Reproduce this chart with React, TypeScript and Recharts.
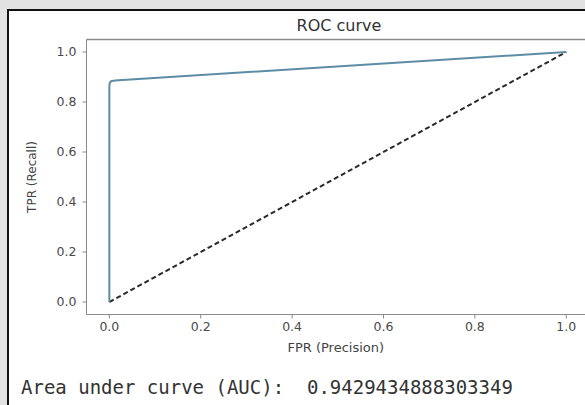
import React from "react";
import { LineChart, Line, XAxis, YAxis, ReferenceLine } from "recharts";

// ROC curve points
const rocFpr = [0, 0, 0.001, 0.004, 0.012, 1.0];
const rocTpr = [0, 0.865, 0.877, 0.883, 0.886, 1.0];

// chance diagonal
const chanceFpr = [0, 1];
const chanceTpr = [0, 1];

const xTicks = [0, 0.2, 0.4, 0.6, 0.8, 1.0];
const yTicks = [0, 0.2, 0.4, 0.6, 0.8, 1.0];

const aucText = "Area under curve (AUC):  0.9429434888303349";

const rocData = rocFpr.map((f, i) => ({ fpr: f, tpr: rocTpr[i] }));
const chanceData = chanceFpr.map((f, i) => ({ fpr: f, tpr: chanceTpr[i] }));

const fmt = (v: number) => v.toFixed(1);
const spine = "#8a8a8a";
const tickFont = { fill: "#4a4a4a", fontSize: 12.5, fontFamily: "DejaVu Sans" };
// the axes run past the right edge of the picture, so the x domain is cut there
const xDomain = [-0.05, 1.041];
const yDomain = [-0.05, 1.05];

export default function App() {
  return (
    <div
      style={{
        position: "absolute",
        left: 0,
        top: 0,
        width: 585,
        height: 405,
        overflow: "hidden",
        background: "#e2e2e2",
      }}
    >
      <style>{`html, body { margin: 0; overflow: hidden; }`}</style>
      <div
        style={{
          position: "absolute",
          left: 7,
          top: 9,
          width: 578,
          height: 396,
          boxSizing: "border-box",
          background: "#ffffff",
          borderLeft: "2px solid #111",
          borderTop: "2px solid #111",
        }}
      />
      <div
        style={{
          position: "absolute",
          left: 284,
          width: 110,
          top: 16,
          textAlign: "center",
          fontFamily: "DejaVu Sans",
          fontSize: 16,
          lineHeight: "19px",
          color: "#333",
        }}
      >
        ROC curve
      </div>
      <div style={{ position: "absolute", left: 0, top: 0 }}>
        <LineChart
          width={585}
          height={405}
          margin={{ top: 39.5, right: 0, left: 0, bottom: 50.5 }}
        >
          <XAxis
            dataKey="fpr"
            type="number"
            domain={xDomain}
            allowDataOverflow
            ticks={xTicks}
            tickFormatter={fmt}
            height={40}
            tickSize={4}
            tickMargin={4}
            stroke={spine}
            tick={tickFont}
            label={{
              value: "FPR (Precision)",
              position: "insideBottom",
              offset: 3,
              fill: "#444",
              fontSize: 13,
              fontFamily: "DejaVu Sans",
            }}
          />
          <YAxis
            dataKey="tpr"
            type="number"
            domain={yDomain}
            allowDataOverflow
            ticks={yTicks}
            tickFormatter={fmt}
            width={86.5}
            tickSize={4}
            tickMargin={6}
            stroke={spine}
            tick={tickFont}
            label={{
              value: "TPR (Recall)",
              angle: -90,
              position: "insideLeft",
              offset: 32,
              style: { textAnchor: "middle" },
              fill: "#444",
              fontSize: 12,
              fontFamily: "DejaVu Sans",
            }}
          />
          <ReferenceLine
            y={1.05}
            stroke={spine}
            strokeWidth={1.5}
            ifOverflow="visible"
          />
          <Line
            data={chanceData}
            dataKey="tpr"
            type="linear"
            stroke="#2a2a2a"
            strokeWidth={2}
            strokeDasharray="5 3"
            dot={false}
            isAnimationActive={false}
          />
          <Line
            data={rocData}
            dataKey="tpr"
            type="linear"
            stroke="#5d8ca5"
            strokeWidth={2}
            dot={false}
            isAnimationActive={false}
          />
        </LineChart>
      </div>
      <div
        style={{
          position: "absolute",
          left: 21,
          top: 376,
          fontFamily: "DejaVu Sans Mono",
          fontSize: 19,
          lineHeight: "23px",
          color: "#333",
          whiteSpace: "pre",
        }}
      >
        {aucText}
      </div>
    </div>
  );
}
